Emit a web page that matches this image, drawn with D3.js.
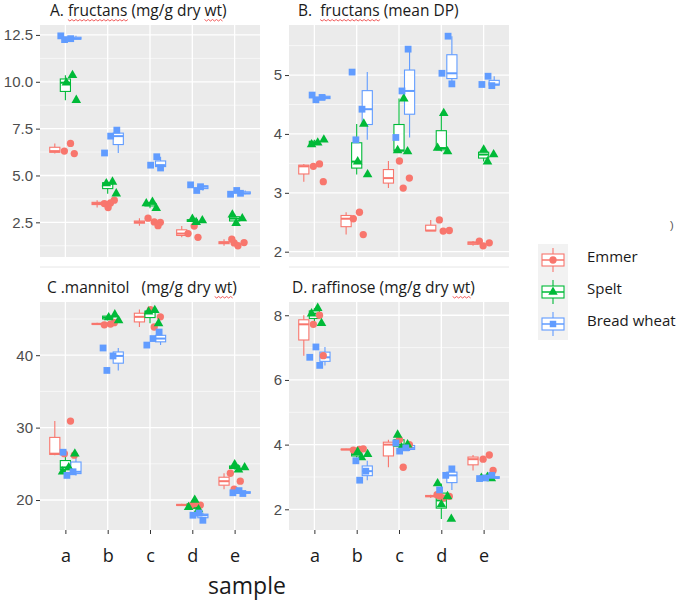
<!DOCTYPE html>
<html>
<head>
<meta charset="utf-8">
<script src="https://cdn.jsdelivr.net/npm/d3@7"></script>
<style>
    body { margin: 0; background: #fff; }
    svg text { font-family: "Liberation Sans", Arial, sans-serif; }
    .title { font-family: "Open Sans", sans-serif; font-size: 15.5px; fill: #1a1a1a; white-space: pre; }
    .legend-label { font-family: "Open Sans", sans-serif; font-size: 15px; fill: #1a1a1a; }
</style>
</head>
<body>
<svg id="chart" width="686" height="600"></svg>
<script>
// =========================================================================
// Data (replicates per variety, per sample)
// =========================================================================

const samples = ['a', 'b', 'c', 'd', 'e'];
const varieties = ['Emmer', 'Spelt', 'Bread wheat'];
const varietyColors = ['#F8766D', '#00BA38', '#619CFF'];
const varietyShapes = [d3.symbolCircle, d3.symbolTriangle, d3.symbolSquare];

// A. fructans (mg/g dry wt)
const fructansConc = [
    [[6.71, 6.3, 6.17], [3.53, 3.5, 3.68, 3.29], [2.5, 2.52, 2.72, 2.32], [2.3, 1.9, 1.7], [1.4, 1.42, 1.25, 1.6]],
    [[10.35, 9.95, 9.02], [4.66, 4.57, 4.03], [3.58, 3.5, 3.25], [2.68, 2.6, 2.5], [2.9, 2.7, 2.45]],
    [[12.45, 12.3, 12.25], [7.42, 7.1, 6.2], [6.0, 5.55, 5.4], [4.2, 4.5, 4.4], [4.2, 4.0, 4.05]]
];

// B. fructans (mean DP)
const fructansDP = [
    [[3.49, 3.45, 3.19], [2.67, 2.56, 2.29], [3.54, 3.25, 3.08], [2.54, 2.36, 2.35], [2.18, 2.15, 2.1]],
    [[3.9, 3.85, 3.82], [4.17, 3.53, 3.31], [4.6, 3.72, 3.7], [4.35, 3.76, 3.7], [3.73, 3.65, 3.53]],
    [[4.66, 4.62, 4.58], [5.05, 4.42, 3.9], [5.44, 4.73, 3.94], [5.66, 5.03, 4.85], [4.98, 4.84, 4.82]]
];

// C. mannitol (mg/g dry wt)
const mannitol = [
    [[30.9, 26.4, 26.2], [44.3, 44.2, 44.5], [46.3, 45.3, 43.9], [19.2, 19.3, 19.5], [23.7, 22.6, 21.5]],
    [[26.4, 24.5, 23.9], [45.6, 45.2, 44.8], [46.2, 46.0, 44.4], [20.0, 19.0, 18.7], [24.9, 24.5, 24.2]],
    [[26.6, 23.9, 23.4], [41.0, 39.9, 37.9], [43.2, 42.3, 41.4], [18.2, 17.9, 17.2], [21.3, 21.0, 20.9]]
];

// D. raffinose (mg/g dry wt)
const raffinose = [
    [[8.0, 7.72, 6.75], [3.85, 3.83, 3.87], [4.15, 4.0, 3.3], [2.42, 2.4, 2.35, 2.45], [3.68, 3.55, 3.2]],
    [[8.22, 8.05, 7.75], [3.78, 3.7, 3.6], [4.3, 4.0, 3.9], [2.8, 2.4, 2.15, 1.7], [3.0, 2.97, 2.95]],
    [[7.02, 6.7, 6.45], [3.5, 3.18, 2.9], [4.05, 3.9, 3.8], [3.25, 3.05, 2.6], [3.05, 2.97, 2.95]]
];

const panelTitles = [
    'A. fructans (mg/g dry wt)',
    'B.  fructans (mean DP)',
    'C .mannitol   (mg/g dry wt)',
    'D. raffinose (mg/g dry wt)'
];
const panelTicks = [[2.5, 5, 7.5, 10, 12.5], [2, 3, 4, 5], [20, 30, 40], [2, 4, 6, 8]];
const panelLimits = [[0.65, 13.03], [1.91, 5.85], [15.86, 47.35], [1.36, 8.41]];

// =========================================================================
// Layout
// =========================================================================

const svg = d3.select('#chart');
const panelW = 220;

const panels = [
    { data: fructansConc, x: 40, y: 25, h: 232, titleX: 50, titleY: 16, fmt: d3.format('.1f'), xAxis: false, flagged: ['fructans', 'wt'] },
    { data: fructansDP, x: 289, y: 25, h: 232, titleX: 298, titleY: 16, fmt: d3.format('d'), xAxis: false, flagged: ['fructans'] },
    { data: mannitol, x: 40, y: 302, h: 228, titleX: 47, titleY: 293, fmt: d3.format('d'), xAxis: true, flagged: ['wt'] },
    { data: raffinose, x: 289, y: 302, h: 228, titleX: 292, titleY: 293, fmt: d3.format('d'), xAxis: true, flagged: ['wt'] }
];

function boxStats(values) {
    const v = values.slice().sort(d3.ascending);
    const q1 = d3.quantile(v, 0.25), med = d3.quantile(v, 0.5), q3 = d3.quantile(v, 0.75);
    const iqr = q3 - q1;
    const lo = d3.min(v.filter(d => d >= q1 - 1.5 * iqr));
    const hi = d3.max(v.filter(d => d <= q3 + 1.5 * iqr));
    return { q1, med, q3, lo, hi };
}

// red spell-check underline under a word of a title
function squiggle(textNode, word, g) {
    const full = textNode.textContent;
    const idx = full.indexOf(word);
    if (idx < 0) return;
    const start = textNode.getStartPositionOfChar(idx);
    const len = textNode.getSubStringLength(idx, word.length);
    const y0 = start.y + 3.5;
    let path = `M${start.x},${y0}`;
    for (let px = start.x, k = 0; px < start.x + len; px += 2, k++) {
        path += `L${px + 2},${y0 + (k % 2 ? 0 : 1.5)}`;
    }
    g.append('path').attr('d', path).attr('fill', 'none')
        .attr('stroke', '#E33').attr('stroke-width', 0.8);
}

panels.forEach((p, pi) => {
    const g = svg.append('g');

    const x = d3.scalePoint().domain(samples).range([p.x, p.x + panelW]).padding(0.6);
    const y = d3.scaleLinear().domain(panelLimits[pi]).range([p.y + p.h, p.y]);
    const step = x.step();

    // background + grid
    g.append('rect').attr('x', p.x).attr('y', p.y).attr('width', panelW).attr('height', p.h).attr('fill', '#EBEBEB');

    const ticks = panelTicks[pi];
    const gap = ticks[1] - ticks[0];
    const minor = d3.range(ticks[0] - gap / 2, ticks[ticks.length - 1] + gap, gap)
        .filter(v => v > panelLimits[pi][0] && v < panelLimits[pi][1]);

    g.selectAll('.minor').data(minor).join('line')
        .attr('x1', p.x).attr('x2', p.x + panelW)
        .attr('y1', d => y(d)).attr('y2', d => y(d))
        .attr('stroke', '#fff').attr('stroke-width', 0.6);
    g.selectAll('.major').data(ticks).join('line')
        .attr('x1', p.x).attr('x2', p.x + panelW)
        .attr('y1', d => y(d)).attr('y2', d => y(d))
        .attr('stroke', '#fff').attr('stroke-width', 1.3);
    g.selectAll('.vmajor').data(samples).join('line')
        .attr('x1', d => x(d)).attr('x2', d => x(d))
        .attr('y1', p.y).attr('y2', p.y + p.h)
        .attr('stroke', '#fff').attr('stroke-width', 1.3);

    // boxes
    const boxW = step * 0.24;
    const boxes = [];
    varieties.forEach((v, vi) => {
        samples.forEach((s, si) => {
            boxes.push({ vi, cx: x(s) + (vi - 1) * step * 0.25, ...boxStats(p.data[vi][si]) });
        });
    });

    const bg = g.append('g');
    boxes.forEach(b => {
        const col = varietyColors[b.vi];
        bg.append('line').attr('x1', b.cx).attr('x2', b.cx).attr('y1', y(b.hi)).attr('y2', y(b.q3))
            .attr('stroke', col).attr('stroke-width', 1.1);
        bg.append('line').attr('x1', b.cx).attr('x2', b.cx).attr('y1', y(b.q1)).attr('y2', y(b.lo))
            .attr('stroke', col).attr('stroke-width', 1.1);
        bg.append('rect').attr('x', b.cx - boxW / 2).attr('width', boxW)
            .attr('y', y(b.q3)).attr('height', Math.max(0.5, y(b.q1) - y(b.q3)))
            .attr('fill', '#fff').attr('stroke', col).attr('stroke-width', 1.1);
        bg.append('line').attr('x1', b.cx - boxW / 2).attr('x2', b.cx + boxW / 2)
            .attr('y1', y(b.med)).attr('y2', y(b.med))
            .attr('stroke', col).attr('stroke-width', 2);
    });

    // jittered points
    const pts = [];
    let k = 1;
    varieties.forEach((v, vi) => {
        samples.forEach((s, si) => {
            p.data[vi][si].forEach(val => {
                const jit = (((k * 0.618034) % 1) - 0.3) * 0.38 * step;
                pts.push({ vi, px: x(s) + jit, py: y(val) });
                k++;
            });
        });
    });
    g.append('g').selectAll('path').data(pts).join('path')
        .attr('transform', d => `translate(${d.px},${d.py})`)
        .attr('d', d => d3.symbol().type(varietyShapes[d.vi]).size(d.vi === 0 ? 42 : d.vi === 1 ? 40 : 46)())
        .attr('fill', d => varietyColors[d.vi]);

    // axes
    const yAxis = g.append('g').attr('transform', `translate(${p.x},0)`)
        .call(d3.axisLeft(y).tickValues(ticks).tickFormat(p.fmt).tickSize(4).tickPadding(3));
    yAxis.select('.domain').remove();
    yAxis.selectAll('line').attr('stroke', '#333');
    yAxis.selectAll('text').attr('fill', '#4D4D4D').style('font-size', '15px');

    if (p.xAxis) {
        const xAxis = g.append('g').attr('transform', `translate(0,${p.y + p.h})`)
            .call(d3.axisBottom(x).tickSize(4).tickPadding(15));
        xAxis.select('.domain').remove();
        xAxis.selectAll('line').attr('stroke', '#333');
        xAxis.selectAll('text').attr('fill', '#1a1a1a')
            .style('font-family', '"Open Sans", sans-serif').style('font-size', '18px');
    } else {
        g.append('line').attr('x1', p.x).attr('x2', p.x + panelW)
            .attr('y1', p.y + p.h + 10).attr('y2', p.y + p.h + 10)
            .attr('stroke', '#E6E6E6').attr('stroke-width', 1);
    }

    // title
    const t = g.append('text').attr('class', 'title')
        .attr('x', p.titleX).attr('y', p.titleY).text(panelTitles[pi]);
    p.flagged.forEach(w => squiggle(t.node(), w, g));
});

// x axis title
svg.append('text').attr('x', 247).attr('y', 594).attr('text-anchor', 'middle')
    .style('font-family', '"Open Sans", sans-serif').style('font-size', '23px').attr('fill', '#1a1a1a')
    .text('sample');

// stray mark right of panel B
svg.append('text').attr('x', 670).attr('y', 229)
    .style('font-size', '11px').attr('fill', '#555').text(')');

// =========================================================================
// Legend
// =========================================================================

const legend = svg.append('g').attr('transform', 'translate(538,244)');
const keyH = 32;
legend.append('rect').attr('width', 30).attr('height', keyH * 3).attr('fill', '#F2F2F2');

varieties.forEach((v, vi) => {
    const cy = keyH * vi + keyH / 2;
    const col = varietyColors[vi];
    const kg = legend.append('g');
    kg.append('line').attr('x1', 15).attr('x2', 15).attr('y1', cy - 12).attr('y2', cy + 12)
        .attr('stroke', col).attr('stroke-width', 1.1);
    kg.append('rect').attr('x', 4).attr('y', cy - 6).attr('width', 22).attr('height', 12)
        .attr('fill', '#fff').attr('stroke', col).attr('stroke-width', 1.1);
    kg.append('line').attr('x1', 4).attr('x2', 26).attr('y1', cy).attr('y2', cy)
        .attr('stroke', col).attr('stroke-width', 1.5);
    kg.append('path').attr('transform', `translate(15,${cy})`)
        .attr('d', d3.symbol().type(varietyShapes[vi]).size(vi === 1 ? 38 : 42)())
        .attr('fill', col);
    legend.append('text').attr('class', 'legend-label')
        .attr('x', 49).attr('y', cy - 2).attr('dominant-baseline', 'middle').text(v);
});
</script>
</body>
</html>
